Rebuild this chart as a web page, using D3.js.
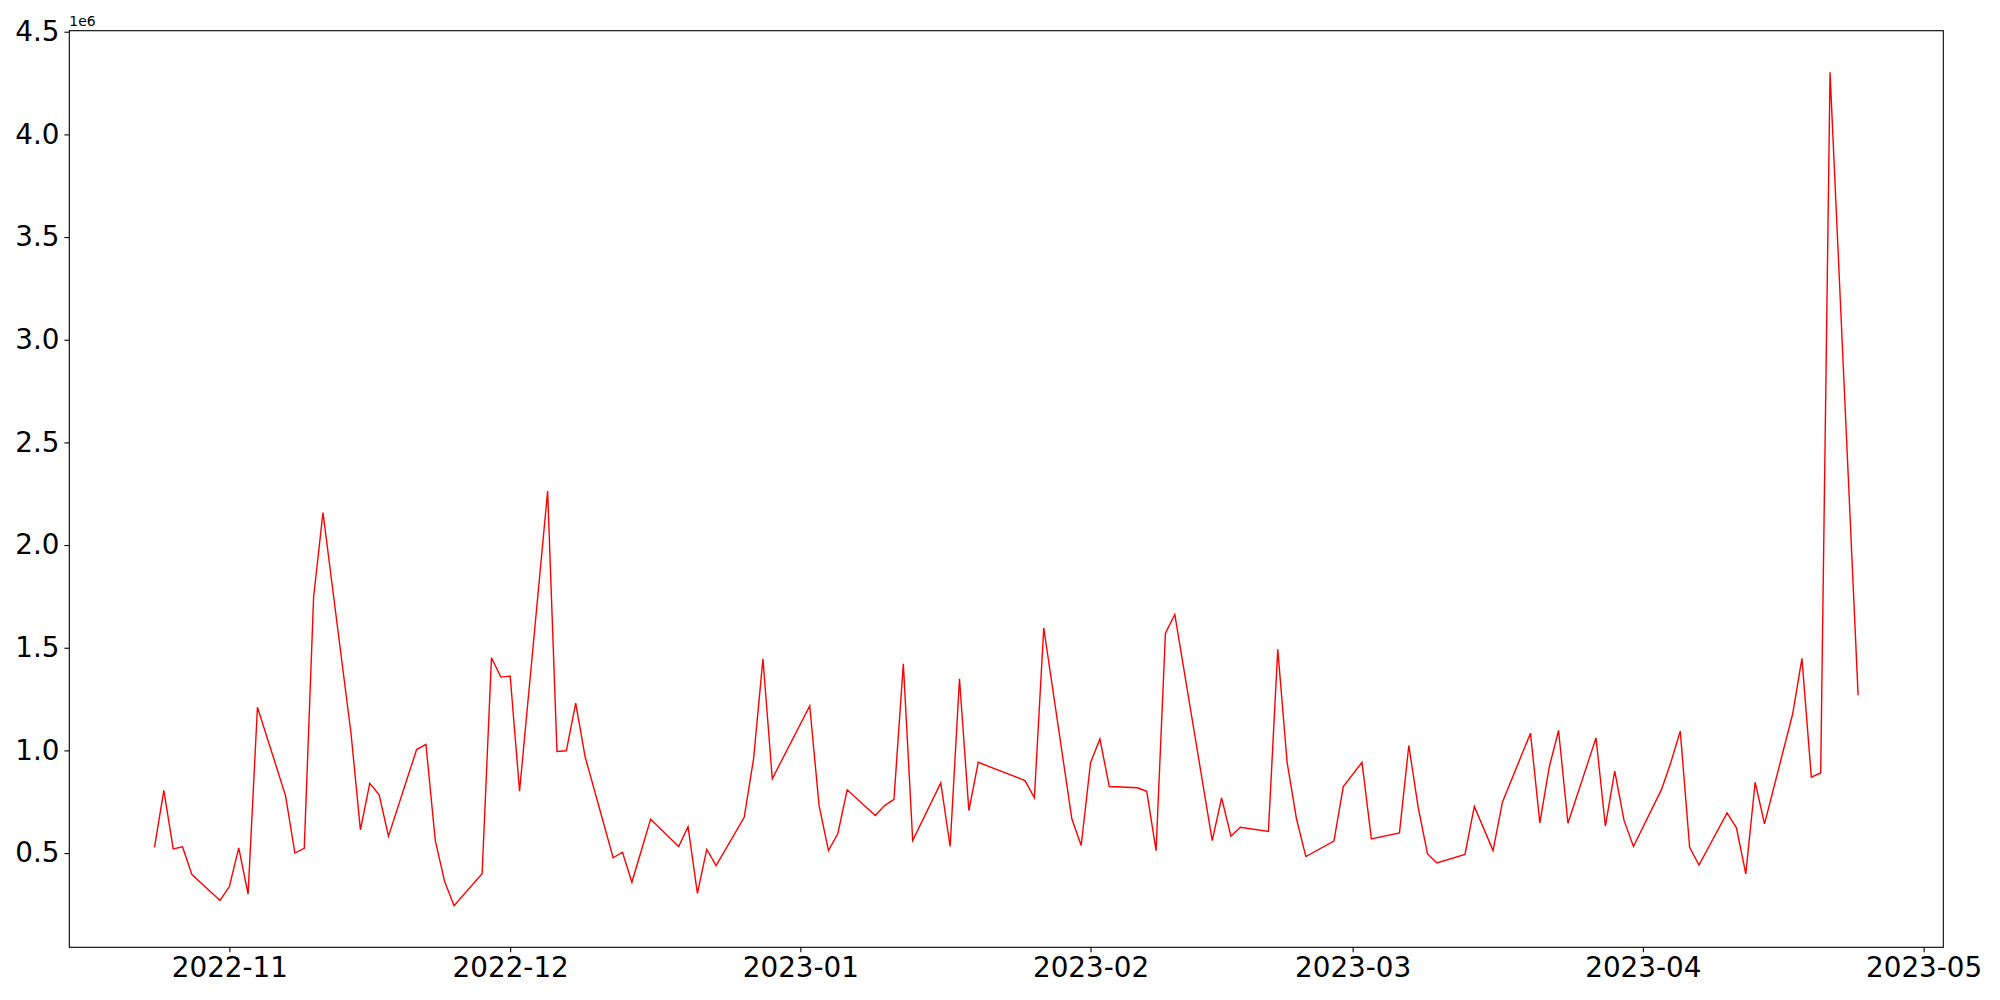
<!DOCTYPE html>
<html>
<head>
<meta charset="utf-8">
<script src="https://cdn.jsdelivr.net/npm/d3@7"></script>
<style>
  html, body { margin: 0; padding: 0; background: #fff; }
  svg { display: block; font-family: "DejaVu Sans", sans-serif; }
</style>
</head>
<body>
<svg id="chart" width="2000" height="1000"></svg>
<script>
const dates = [
  "2022-10-24","2022-10-25","2022-10-26","2022-10-27","2022-10-28","2022-10-31",
  "2022-11-01","2022-11-02","2022-11-03","2022-11-04","2022-11-07","2022-11-08","2022-11-09","2022-11-10","2022-11-11",
  "2022-11-14","2022-11-15","2022-11-16","2022-11-17","2022-11-18","2022-11-21","2022-11-22","2022-11-23","2022-11-24","2022-11-25",
  "2022-11-28","2022-11-29","2022-11-30","2022-12-01","2022-12-02","2022-12-05","2022-12-06","2022-12-07","2022-12-08","2022-12-09",
  "2022-12-12","2022-12-13","2022-12-14","2022-12-16","2022-12-19","2022-12-20","2022-12-21","2022-12-22","2022-12-23",
  "2022-12-26","2022-12-27","2022-12-28","2022-12-29","2023-01-02","2023-01-03","2023-01-04","2023-01-05","2023-01-06",
  "2023-01-09","2023-01-10","2023-01-11","2023-01-12","2023-01-13","2023-01-16","2023-01-17","2023-01-18","2023-01-19","2023-01-20",
  "2023-01-25","2023-01-26","2023-01-27","2023-01-30","2023-01-31","2023-02-01","2023-02-02","2023-02-03",
  "2023-02-06","2023-02-07","2023-02-08","2023-02-09","2023-02-10","2023-02-14","2023-02-15","2023-02-16","2023-02-17",
  "2023-02-20","2023-02-21","2023-02-22","2023-02-23","2023-02-24","2023-02-27","2023-02-28","2023-03-02","2023-03-03",
  "2023-03-06","2023-03-07","2023-03-08","2023-03-09","2023-03-10","2023-03-13","2023-03-14","2023-03-16","2023-03-17",
  "2023-03-20","2023-03-21","2023-03-22","2023-03-23","2023-03-24","2023-03-27","2023-03-28","2023-03-29","2023-03-30","2023-03-31",
  "2023-04-03","2023-04-04","2023-04-05","2023-04-06","2023-04-07","2023-04-10","2023-04-11","2023-04-12","2023-04-13","2023-04-14",
  "2023-04-17","2023-04-18","2023-04-19","2023-04-20","2023-04-21","2023-04-24"
];
const values = [
  528000, 805000, 520000, 530000, 395000, 269000,
  337000, 525000, 300000, 1210000, 780000, 500000, 523000, 1747000, 2158000,
  1081000, 613000, 840000, 784000, 582000, 1004000, 1029000, 561000, 361000, 244000,
  399000, 1451000, 1357000, 1362000, 801000, 2263000, 995000, 998000, 1230000, 970000,
  477000, 504000, 358000, 665000, 532000, 629000, 304000, 518000, 439000,
  674000, 959000, 1446000, 862000, 1217000, 731000, 512000, 594000, 808000,
  683000, 731000, 762000, 1422000, 561000, 842000, 532000, 1349000, 707000, 942000,
  853000, 769000, 1596000, 667000, 537000, 940000, 1056000, 824000,
  818000, 801000, 512000, 1571000, 1662000, 561000, 769000, 582000, 626000,
  605000, 1492000, 942000, 667000, 483000, 558000, 824000, 942000, 569000,
  598000, 1024000, 723000, 496000, 452000, 493000, 727000, 512000, 748000,
  1084000, 647000, 918000, 1097000, 645000, 1061000, 631000, 899000, 658000, 532000,
  810000, 942000, 1094000, 528000, 442000, 696000, 623000, 399000, 845000, 642000,
  1176000, 1448000, 870000, 890000, 4302000, 1268000
];
const yTicks = [500000, 1000000, 1500000, 2000000, 2500000, 3000000, 3500000, 4000000, 4500000];
const offsetLabel = "1e6";

const parse = d3.utcParse("%Y-%m-%d");
const data = dates.map((d, i) => ({ date: parse(d), value: values[i] }));

const svg = d3.select("#chart");
const margin = { left: 69.3, top: 30.7, right: 2000 - 1943.3, bottom: 1000 - 947.3 };
const W = 2000 - margin.left - margin.right;
const H = 1000 - margin.top - margin.bottom;

// matplotlib-like 5% margins
const [t0, t1] = d3.extent(data, d => d.date.getTime());
const tpad = (t1 - t0) * 0.05;
const [v0, v1] = d3.extent(values);
const vpad = (v1 - v0) * 0.05;

const x = d3.scaleUtc().domain([new Date(t0 - tpad), new Date(t1 + tpad)]).range([0, W]);
const y = d3.scaleLinear().domain([v0 - vpad, v1 + vpad]).range([H, 0]);

const g = svg.append("g").attr("transform", `translate(${margin.left},${margin.top})`);

const line = d3.line().x(d => x(d.date)).y(d => y(d.value));
g.append("path")
  .datum(data)
  .attr("fill", "none")
  .attr("stroke", "#ff0000")
  .attr("stroke-width", 1.4)
  .attr("stroke-linejoin", "miter")
  .attr("d", line);

const tickLen = 4.9, tickPad = 4.9, fs = 27.8;

const xAxis = d3.axisBottom(x)
  .ticks(d3.utcMonth.every(1))
  .tickFormat(d3.utcFormat("%Y-%m"))
  .tickSizeInner(tickLen).tickSizeOuter(0).tickPadding(tickPad);
const gx = g.append("g").attr("transform", `translate(0,${H})`).call(xAxis);
gx.select(".domain").remove();
gx.selectAll("line").attr("stroke", "#000").attr("stroke-width", 1.1);
gx.selectAll("text").attr("font-size", fs).attr("fill", "#000").attr("font-family", "DejaVu Sans");

const yAxis = d3.axisLeft(y)
  .tickValues(yTicks)
  .tickFormat(d => (d / 1e6).toFixed(1))
  .tickSizeInner(tickLen).tickSizeOuter(0).tickPadding(tickPad);
const gy = g.append("g").call(yAxis);
gy.select(".domain").remove();
gy.selectAll("line").attr("stroke", "#000").attr("stroke-width", 1.1);
gy.selectAll("text").attr("font-size", fs).attr("fill", "#000").attr("font-family", "DejaVu Sans");

// frame
g.append("rect")
  .attr("x", 0).attr("y", 0).attr("width", W).attr("height", H)
  .attr("fill", "none").attr("stroke", "#000").attr("stroke-width", 1.1);

// offset text
g.append("text")
  .attr("x", 0).attr("y", -5)
  .attr("font-size", 13.9)
  .attr("fill", "#000")
  .attr("font-family", "DejaVu Sans")
  .text(offsetLabel);
</script>
</body>
</html>
